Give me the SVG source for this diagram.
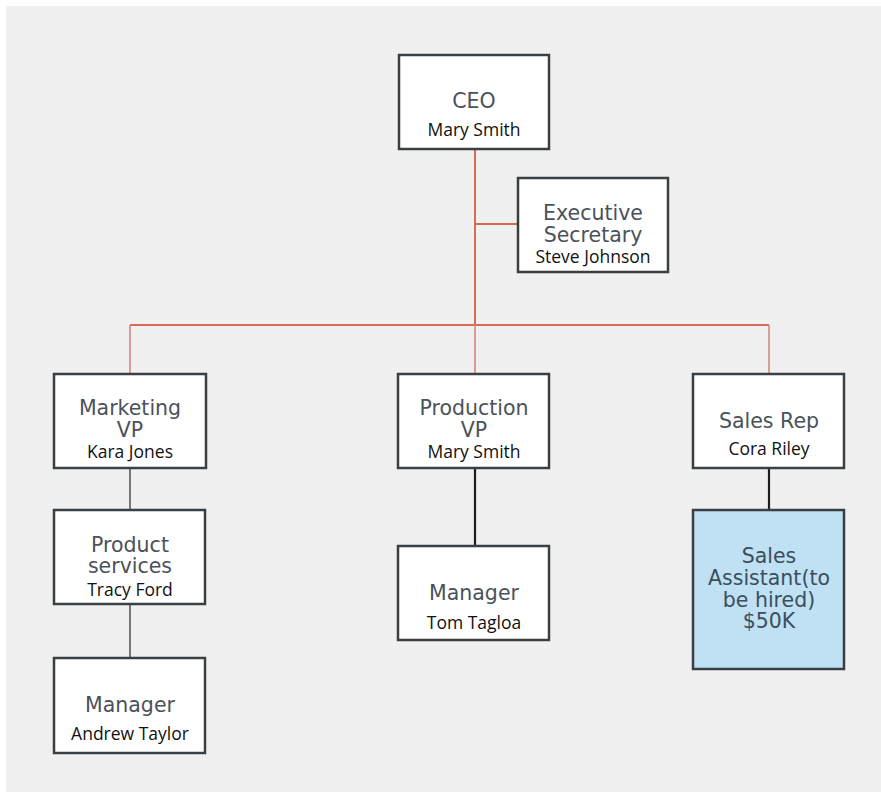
<svg xmlns="http://www.w3.org/2000/svg" width="881" height="797" viewBox="0 0 881 797">
<style>
.box{fill:#ffffff;stroke:#3a3f44;stroke-width:2.5}
.hire{fill:#bfe1f3;stroke:#3a3f44;stroke-width:2.5}
.t{font-family:"DejaVu Sans",Verdana,sans-serif;font-size:20.5px;fill:#4a525a;text-anchor:middle}
.ta{font-family:"DejaVu Sans",Verdana,sans-serif;font-size:20.5px;fill:#3b4e5c;text-anchor:middle}
.n{font-family:"Open Sans","Noto Sans",sans-serif;font-size:17.5px;fill:#111111;text-anchor:middle}
.red{stroke:#d96a58;stroke-width:2;fill:none}
.redthin{stroke:#cf8a80;stroke-width:1.6;fill:none}
.blk{stroke:#1e1e1e;stroke-width:2.2;fill:none}
.gry{stroke:#444;stroke-width:1.4;fill:none}
</style>
<rect x="0" y="0" width="881" height="797" fill="#ffffff"/>
<rect x="6" y="6" width="875" height="786" fill="#f0f0f0"/>
<g id="connectors">
<path class="red" d="M475 148 V325 M475 224 H518 M130 325 H769"/>
<path class="redthin" d="M130 325 V374 M769 325 V374 M475 325 V374"/>
<path class="gry" d="M130 468 V510 M130 604 V658"/>
<path class="blk" d="M475 468 V546 M769 468 V510"/>
</g>
<g id="ceo">
<rect class="box" x="399" y="55" width="150" height="94"/>
<text class="t" x="474" y="108">CEO</text>
<text class="n" x="474" y="136">Mary Smith</text>
</g>
<g id="exec-secretary">
<rect class="box" x="518" y="178" width="150" height="94"/>
<text class="t" x="593" y="220">Executive</text>
<text class="t" x="593" y="242">Secretary</text>
<text class="n" x="593" y="263">Steve Johnson</text>
</g>
<g id="marketing-vp">
<rect class="box" x="54" y="374" width="152" height="94"/>
<text class="t" x="130" y="415">Marketing</text>
<text class="t" x="130" y="437">VP</text>
<text class="n" x="130" y="458">Kara Jones</text>
</g>
<g id="product-services">
<rect class="box" x="54" y="510" width="151" height="94"/>
<text class="t" x="130" y="552">Product</text>
<text class="t" x="130" y="573">services</text>
<text class="n" x="130" y="596">Tracy Ford</text>
</g>
<g id="manager-andrew">
<rect class="box" x="54" y="658" width="151" height="95"/>
<text class="t" x="130" y="712">Manager</text>
<text class="n" x="130" y="740">Andrew Taylor</text>
</g>
<g id="production-vp">
<rect class="box" x="398" y="374" width="151" height="94"/>
<text class="t" x="474" y="415">Production</text>
<text class="t" x="474" y="437">VP</text>
<text class="n" x="474" y="458">Mary Smith</text>
</g>
<g id="manager-tom">
<rect class="box" x="398" y="546" width="151" height="94"/>
<text class="t" x="474" y="600">Manager</text>
<text class="n" x="474" y="629">Tom Tagloa</text>
</g>
<g id="sales-rep">
<rect class="box" x="693" y="374" width="151" height="94"/>
<text class="t" x="769" y="428">Sales Rep</text>
<text class="n" x="769" y="455">Cora Riley</text>
</g>
<g id="sales-assistant">
<rect class="hire" x="693" y="510" width="151" height="159"/>
<text class="ta" x="769" y="563">Sales</text>
<text class="ta" x="769" y="585">Assistant(to</text>
<text class="ta" x="769" y="607">be hired)</text>
<text class="ta" x="769" y="628">$50K</text>
</g>
</svg>
